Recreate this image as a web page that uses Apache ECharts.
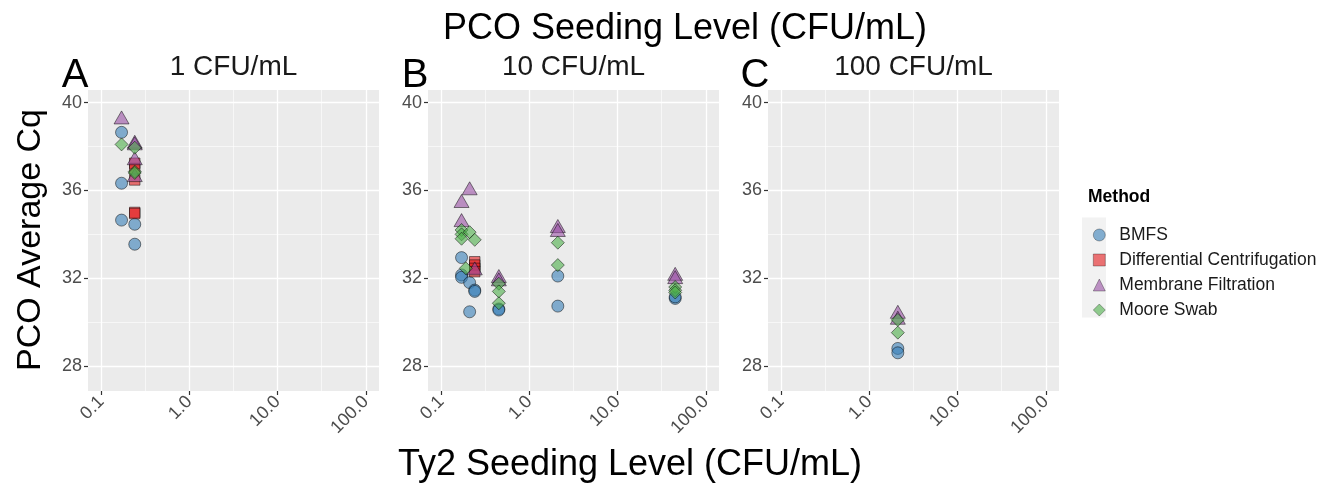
<!DOCTYPE html>
<html lang="en">
<head>
<meta charset="UTF-8">
<title>PCO Average Cq</title>
<script src="https://cdn.jsdelivr.net/npm/echarts@6/dist/echarts.min.js"></script>
</head>
<body style="margin:0;background:#fff;">
<div id="main" style="width:1334px;height:488px;"></div>
<script type="text/javascript">
// facets (PCO seeding level) and methods
var panels = ['1 CFU/mL', '10 CFU/mL', '100 CFU/mL'];
var panelTags = ['A', 'B', 'C'];
var methods = ['BMFS', 'Differential Centrifugation', 'Membrane Filtration', 'Moore Swab'];

// tick labels
var xTicks = [0.1, 1, 10, 100];
var xTickLabels = ['0.1', '1.0', '10.0', '100.0'];
var yTicks = [28, 32, 36, 40];

// points: [Ty2 seeding level (CFU/mL), PCO average Cq]
var bmfsA = [[0.17, 38.65], [0.17, 36.33], [0.17, 34.65], [0.24, 34.46], [0.24, 33.55]];
var dcA = [[0.24, 37.24], [0.24, 37.0], [0.24, 36.48], [0.24, 35.0], [0.24, 34.95]];
var mfA = [[0.17, 39.33], [0.24, 38.22], [0.24, 38.15], [0.24, 37.47], [0.24, 36.7]];
var msA = [[0.17, 38.1], [0.24, 37.95], [0.24, 36.86], [0.24, 36.8]];

var bmfsB = [[0.17, 32.94], [0.17, 32.15], [0.17, 32.04], [0.21, 31.8], [0.24, 31.46], [0.24, 31.4],
             [0.21, 30.47], [0.45, 30.6], [0.45, 30.55], [2.1, 32.1], [2.1, 30.73], [45, 31.08], [45, 31.15]];
var dcB = [[0.24, 32.75], [0.24, 32.6], [0.24, 32.45], [0.24, 32.3]];
var mfB = [[0.21, 36.1], [0.17, 35.52], [0.17, 34.65], [0.24, 32.45], [0.45, 32.1], [0.45, 31.95],
           [2.1, 34.38], [2.1, 34.2], [45, 32.2], [45, 32.05]];
var msB = [[0.17, 34.2], [0.17, 34.0], [0.17, 33.8], [0.21, 34.1], [0.24, 33.75], [0.19, 32.45],
           [0.45, 31.75], [0.45, 31.4], [0.45, 30.86], [2.1, 33.62], [2.1, 32.6],
           [45, 31.6], [45, 31.45], [45, 31.35]];

var bmfsC = [[2.1, 28.8], [2.1, 28.6]];
var dcC = [];
var mfC = [[2.1, 30.47], [2.1, 30.2]];
var msC = [[2.1, 30.1], [2.1, 29.52]];

var panelData = [
    [bmfsA, dcA, mfA, msA],
    [bmfsB, dcB, mfB, msB],
    [bmfsC, dcC, mfC, msC]
];

// Set1 colours with alpha, ggplot-like shapes
var fills = ['rgba(55,126,184,0.6)', 'rgba(228,26,28,0.6)', 'rgba(152,78,163,0.6)', 'rgba(77,175,74,0.6)'];
var symbols = ['circle', 'rect', 'triangle', 'diamond'];
var sizes = [12, 10.5, [15, 13], 13];

var font = 'Liberation Sans, Arial, sans-serif';
var gridLeft = [88, 428, 768];
var gridTop = 90, gridW = 291, gridH = 301;

var xMajor = xTicks.map(function (v) { return Math.log10(v); });
var xMinor = [];
for (var i = 0; i < xMajor.length - 1; i++) xMinor.push((xMajor[i] + xMajor[i + 1]) / 2);
var yMinor = [];
for (var i = 0; i < yTicks.length - 1; i++) yMinor.push((yTicks[i] + yTicks[i + 1]) / 2);

var grids = [], xAxes = [], yAxes = [], series = [], graphics = [];

for (var p = 0; p < panels.length; p++) {
    grids.push({
        left: gridLeft[p], top: gridTop, width: gridW, height: gridH,
        show: true, backgroundColor: '#EBEBEB', borderWidth: 0
    });
    // major x axis (data axis)
    xAxes.push({
        type: 'value', gridIndex: p, min: -1.15, max: 2.15, position: 'bottom',
        axisLine: { show: false, onZero: false },
        axisTick: { show: true, length: 4, customValues: xMajor, lineStyle: { color: '#333', width: 1.2 } },
        axisLabel: {
            customValues: xMajor, rotate: 45, margin: 8, color: '#4D4D4D', fontSize: 18, fontFamily: font,
            formatter: function (v) {
                for (var k = 0; k < xMajor.length; k++) {
                    if (Math.abs(xMajor[k] - v) < 1e-6) return xTickLabels[k];
                }
                return '';
            }
        },
        splitLine: { show: true, lineStyle: { color: '#fff', width: 1.3 } }
    });
    // minor x grid lines
    xAxes.push({
        type: 'value', gridIndex: p, min: -1.15, max: 2.15, position: 'top',
        axisLine: { show: false, onZero: false },
        axisTick: { show: false, customValues: xMinor },
        axisLabel: { show: false },
        splitLine: { show: true, lineStyle: { color: '#fff', width: 0.6 } }
    });
    yAxes.push({
        type: 'value', gridIndex: p, min: 26.86, max: 40.58, position: 'left',
        axisLine: { show: false, onZero: false },
        axisTick: { show: true, length: 4, customValues: yTicks, lineStyle: { color: '#333', width: 1.2 } },
        axisLabel: { customValues: yTicks, margin: 6, color: '#4D4D4D', fontSize: 18, fontFamily: font },
        splitLine: { show: true, lineStyle: { color: '#fff', width: 1.3 } }
    });
    yAxes.push({
        type: 'value', gridIndex: p, min: 26.86, max: 40.58, position: 'right',
        axisLine: { show: false, onZero: false },
        axisTick: { show: false, customValues: yMinor },
        axisLabel: { show: false },
        splitLine: { show: true, lineStyle: { color: '#fff', width: 0.6 } }
    });

    for (var m = 0; m < methods.length; m++) {
        series.push({
            name: methods[m],
            type: 'scatter',
            xAxisIndex: 2 * p,
            yAxisIndex: 2 * p,
            symbol: symbols[m],
            symbolSize: sizes[m],
            itemStyle: { color: fills[m], borderColor: 'rgba(0,0,0,0.6)', borderWidth: 0.8, opacity: 1 },
            data: panelData[p][m].map(function (d) { return [Math.log10(d[0]), d[1]]; })
        });
    }

    graphics.push({
        type: 'text', x: gridLeft[p] + gridW / 2, y: 67,
        style: { text: panels[p], font: '28px ' + font, fill: '#1A1A1A', textAlign: 'center', textVerticalAlign: 'middle' }
    });
    graphics.push({
        type: 'text', x: gridLeft[p] - 13, y: 76,
        style: { text: panelTags[p], font: '40px ' + font, fill: '#000', textAlign: 'center', textVerticalAlign: 'middle' }
    });
}

graphics.push({
    type: 'text', x: 685, y: 29,
    style: { text: 'PCO Seeding Level (CFU/mL)', font: '36px ' + font, fill: '#000', textAlign: 'center', textVerticalAlign: 'middle' }
});
graphics.push({
    type: 'text', x: 630, y: 465,
    style: { text: 'Ty2 Seeding Level (CFU/mL)', font: '36px ' + font, fill: '#000', textAlign: 'center', textVerticalAlign: 'middle' }
});
graphics.push({
    type: 'text', x: 31, y: 240, rotation: Math.PI / 2,
    style: { text: 'PCO Average Cq', font: '34px ' + font, fill: '#000', textAlign: 'center', textVerticalAlign: 'middle' }
});
graphics.push({
    type: 'text', x: 1088, y: 197,
    style: { text: 'Method', font: 'bold 17.5px ' + font, fill: '#000', textAlign: 'left', textVerticalAlign: 'middle' }
});
graphics.push({
    type: 'rect', z: -1, shape: { x: 1082, y: 217.5, width: 24, height: 100 },
    style: { fill: '#F2F2F2' }
});

var myChart = echarts.init(document.getElementById('main'));

var option = {
    animation: false,
    backgroundColor: '#fff',
    legend: {
        orient: 'vertical',
        left: 1088,
        top: 221,
        itemWidth: 12,
        itemHeight: 12,
        itemGap: 7,
        data: methods,
        itemStyle: { borderWidth: 0.6, borderColor: 'rgba(0,0,0,0.5)' },
        textStyle: { fontSize: 17.5, fontFamily: font, color: '#1A1A1A', lineHeight: 18, padding: [0, 0, 0, 9] }
    },
    grid: grids,
    xAxis: xAxes,
    yAxis: yAxes,
    series: series,
    graphic: graphics
};
myChart.setOption(option);
</script>
</body>
</html>
